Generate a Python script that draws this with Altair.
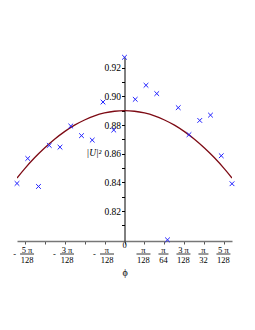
import math
import altair as alt
import pandas as pd

# measured points (phi in rad, |U|^2)
phi_pts = [-0.132, -0.1188, -0.1056, -0.0924, -0.0792, -0.066, -0.0528, -0.0396,
           -0.0264, -0.0132, 0.0, 0.0132, 0.0264, 0.0396, 0.0528, 0.066, 0.0792,
           0.0924, 0.1056, 0.1188, 0.132]
u2_pts = [0.8393, 0.8567, 0.8372, 0.8658, 0.8646, 0.8793, 0.8726, 0.8695,
          0.8960, 0.8765, 0.9272, 0.8979, 0.9077, 0.9019, 0.8000, 0.8921,
          0.8733, 0.8832, 0.8869, 0.8586, 0.8391]

# fitted curve
phi_curve = [-0.132, -0.12272, -0.11045, -0.09817, -0.08590, -0.07363, -0.06136,
             -0.04909, -0.03682, -0.02454, -0.01227, 0.0, 0.01227, 0.02454,
             0.03682, 0.04909, 0.06136, 0.07363, 0.08590, 0.09817, 0.11045,
             0.12272, 0.132]
u2_curve = [0.8431, 0.8495, 0.8572, 0.8640, 0.8701, 0.8754, 0.8799, 0.8835,
            0.8864, 0.8884, 0.8896, 0.8900, 0.8896, 0.8884, 0.8864, 0.8835,
            0.8799, 0.8754, 0.8701, 0.8640, 0.8572, 0.8495, 0.8431]

# x tick labels (in units of pi/128)
tick_k = [-5, -4, -3, -2, -1, 0, 1, 2, 3, 4, 5]
lab_k = [-5, -3, -1, 1, 2, 3, 4, 5]
lab_sign = ["-", "-", "-", "", "", "", "", ""]
lab_num = ["5 π", "3 π", "π", "π", "π", "3 π", "π", "5 π"]
lab_den = ["128", "128", "128", "128", "64", "128", "32", "128"]
y_ticks = [0.81, 0.82, 0.83, 0.84, 0.85, 0.86, 0.87, 0.88, 0.89, 0.90, 0.91, 0.92]

unit = math.pi / 128
pts = pd.DataFrame({"phi": phi_pts, "u2": u2_pts})
cur = pd.DataFrame({"phi": phi_curve, "u2": u2_curve})
labs = pd.DataFrame({
    "phi": [k * unit for k in lab_k],
    "sign": lab_sign, "num": lab_num, "den": lab_den,
})
zero = pd.DataFrame({"phi": [0.0], "t": ["0"]})

FONT = "Liberation Serif"
xscale = alt.Scale(domain=[-0.132, 0.132], nice=False, zero=False)
yscale = alt.Scale(domain=[0.7992, 0.9274], nice=False, zero=False)
xaxis = alt.Axis(values=[k * unit for k in tick_k], labels=False, tickSize=3,
                 tickColor="#555", domainColor="#777", domainWidth=1.5,
                 grid=False, title="ϕ", titleFont=FONT, titleFontSize=10,
                 titleColor="#000",
                 titleFontWeight="normal", titleY=31, titleBaseline="middle")
yaxis = alt.Axis(values=y_ticks, offset=-107.5, tickSize=3, tickColor="#000",
                 domainColor="#000", domainWidth=1, grid=False,
                 labelExpr="(round(datum.value*100) % 2 == 0) ? format(datum.value, '.2f') : ''",
                 labelFont=FONT, labelFontSize=9.5, labelColor="#000", labelPadding=1,
                 title="|U|²", titleFont=FONT, titleFontSize=9.5, titleFontWeight="normal",
                 titleColor="#000", titleFontStyle="italic",
                 titleAngle=0, titleX=-31, titleY=95, titleAlign="center",
                 titleBaseline="middle")

X = alt.X("phi:Q", scale=xscale, axis=xaxis)
Y = alt.Y("u2:Q", scale=yscale, axis=yaxis)

line = alt.Chart(cur).mark_line(color="#7d0a14", strokeWidth=1.3,
                                interpolate="natural", clip=True).encode(x=X, y=Y)
cross = "M-1,-1L1,1M-1,1L1,-1"
points = alt.Chart(pts).mark_point(shape=cross, filled=False, color="#2020ff",
                                   strokeWidth=1, size=22, opacity=1).encode(x=X, y=Y)

Xl = alt.X("phi:Q", scale=xscale, axis=xaxis)
base = alt.Chart(labs)
neg = base.transform_filter("datum.sign == '-'")
pos = base.transform_filter("datum.sign != '-'")
tstyle = dict(font=FONT, fontSize=8.5, color="#000", align="center", baseline="middle")

num_neg = neg.mark_text(dx=2.5, **tstyle).encode(x=Xl, y=alt.value(192.5), text="num:N")
den_neg = neg.mark_text(dx=2.5, **tstyle).encode(x=Xl, y=alt.value(202.5), text="den:N")
minus = neg.mark_text(dx=-10, **tstyle).encode(x=Xl, y=alt.value(197), text="sign:N")
num_pos = pos.mark_text(dx=-1, **tstyle).encode(x=Xl, y=alt.value(192.5), text="num:N")
den_pos = pos.mark_text(dx=-1, **tstyle).encode(x=Xl, y=alt.value(202.5), text="den:N")

def bars(src, shift):
    return src.transform_calculate(
        x1="datum.phi - (length(datum.den) == 3 ? 0.35 : 0.25) * PI / 128",
        x2="datum.phi + (length(datum.den) == 3 ? 0.35 : 0.25) * PI / 128",
    ).mark_rule(color="#000", strokeWidth=0.8, xOffset=shift, x2Offset=shift).encode(
        x=alt.X("x1:Q", scale=xscale, axis=xaxis), x2="x2:Q", y=alt.value(197))

zero_lab = alt.Chart(zero).mark_text(**tstyle).encode(
    x=alt.X("phi:Q", scale=xscale, axis=xaxis), y=alt.value(188), text="t:N")

chart = alt.layer(
    line, points, num_neg, den_neg, minus, num_pos, den_pos,
    bars(neg, 2.5), bars(pos, -1), zero_lab
).properties(
    width=215, height=184,
    autosize=alt.AutoSizeParams(type="none"),
    padding={"left": 17, "top": 57, "right": 23, "bottom": 89},
    background="white",
).configure_view(stroke=None)

chart.save("out.html", embed_options={"renderer": "svg", "actions": False})
